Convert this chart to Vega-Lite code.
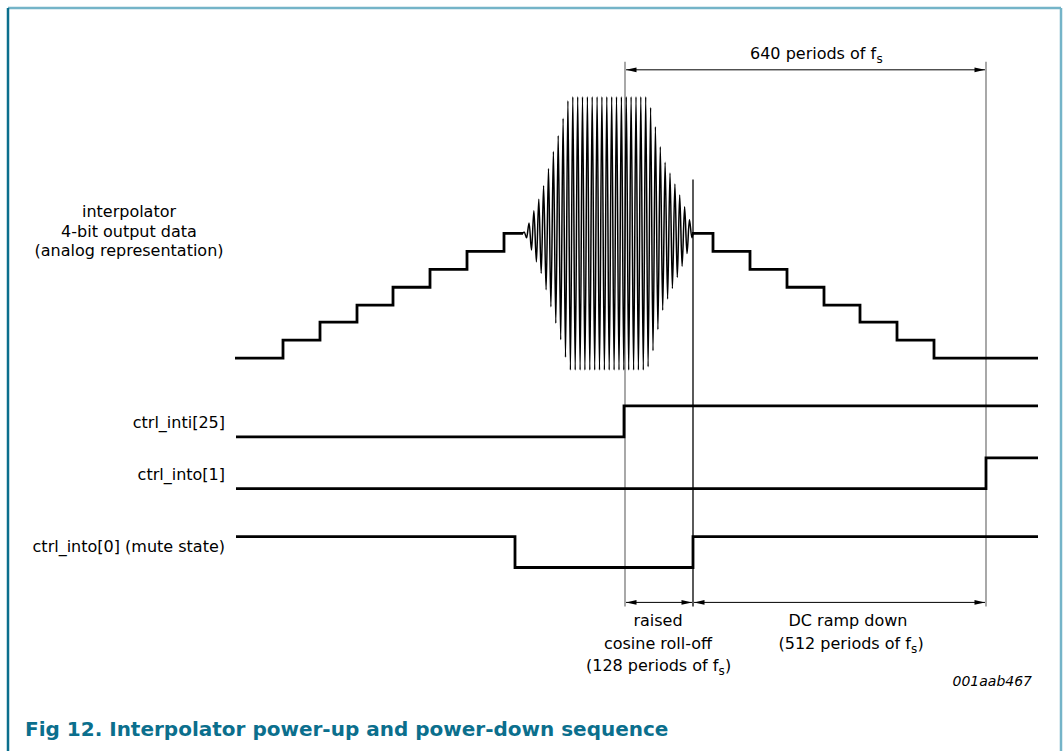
{
  "$schema": "https://vega.github.io/schema/vega-lite/v6.json",
  "width": 1063,
  "height": 753,
  "autosize": {"type": "fit", "contains": "padding"},
  "padding": 0,
  "background": "white",
  "config": {"view": {"stroke": null}, "text": {"font": "DejaVu Sans"}},
  "resolve": {"scale": {"color": "independent", "shape": "independent"}},
  "datasets": {
    "frame": [
      {"x": 8, "y": 8, "x2": 1061, "y2": 8, "part": "top"},
      {"x": 8, "y": 8, "x2": 8, "y2": 753, "part": "left"},
      {"x": 1061, "y": 8, "x2": 1061, "y2": 753, "part": "right"}
    ],
    "vlines": [
      {"x": 625, "y": 62, "y2": 608, "kind": "gray"},
      {"x": 693, "y": 180, "y2": 608, "kind": "black"},
      {"x": 986, "y": 62, "y2": 608, "kind": "gray"}
    ],
    "arrows": [
      {"x": 626, "x2": 985, "y": 70},
      {"x": 626, "x2": 692, "y": 604},
      {"x": 694, "x2": 985, "y": 604}
    ],
    "heads": [
      {"x": 626, "y": 70, "dir": "left"},
      {"x": 985, "y": 70, "dir": "right"},
      {"x": 626, "y": 604, "dir": "left"},
      {"x": 692, "y": 604, "dir": "right"},
      {"x": 694, "y": 604, "dir": "left"},
      {"x": 985, "y": 604, "dir": "right"}
    ],
    "stairs": [
      {"x": 235, "y": 359, "side": "up"},
      {"x": 283, "y": 341, "side": "up"},
      {"x": 320, "y": 323, "side": "up"},
      {"x": 357, "y": 306, "side": "up"},
      {"x": 393, "y": 288, "side": "up"},
      {"x": 430, "y": 270, "side": "up"},
      {"x": 467, "y": 252, "side": "up"},
      {"x": 504, "y": 234, "side": "up"},
      {"x": 523, "y": 234, "side": "up"},
      {"x": 692, "y": 234, "side": "down"},
      {"x": 713, "y": 252, "side": "down"},
      {"x": 750, "y": 270, "side": "down"},
      {"x": 787, "y": 288, "side": "down"},
      {"x": 824, "y": 306, "side": "down"},
      {"x": 860, "y": 323, "side": "down"},
      {"x": 897, "y": 341, "side": "down"},
      {"x": 934, "y": 359, "side": "down"},
      {"x": 1038, "y": 359, "side": "down"}
    ],
    "wave": [
      {"x": 523, "y": 234}, {"x": 524.2, "y": 232.5}, {"x": 526.6, "y": 238.5},
      {"x": 529.1, "y": 223.5}, {"x": 531.5, "y": 250.7}, {"x": 533.9, "y": 211.4},
      {"x": 536.4, "y": 262.6}, {"x": 538.8, "y": 199.7}, {"x": 541.2, "y": 274.1},
      {"x": 543.6, "y": 186.3}, {"x": 546.1, "y": 290.6}, {"x": 548.5, "y": 168.9},
      {"x": 550.9, "y": 307.6}, {"x": 553.4, "y": 152}, {"x": 555.8, "y": 324},
      {"x": 558.2, "y": 136}, {"x": 560.7, "y": 340.6}, {"x": 563.1, "y": 118.6},
      {"x": 565.5, "y": 358.2}, {"x": 567.9, "y": 101}, {"x": 570.4, "y": 371},
      {"x": 572.8, "y": 97}, {"x": 575.2, "y": 371}, {"x": 577.7, "y": 97},
      {"x": 580.1, "y": 371}, {"x": 582.5, "y": 97}, {"x": 584.9, "y": 371},
      {"x": 587.4, "y": 97}, {"x": 589.8, "y": 371}, {"x": 592.2, "y": 97},
      {"x": 594.7, "y": 371}, {"x": 597.1, "y": 97}, {"x": 599.5, "y": 371},
      {"x": 601.9, "y": 97}, {"x": 604.4, "y": 371}, {"x": 606.8, "y": 97},
      {"x": 609.2, "y": 371}, {"x": 611.7, "y": 97}, {"x": 614.1, "y": 371},
      {"x": 616.5, "y": 97}, {"x": 619.0, "y": 371}, {"x": 621.4, "y": 97},
      {"x": 623.8, "y": 371}, {"x": 626.3, "y": 97}, {"x": 628.7, "y": 371},
      {"x": 631.1, "y": 97}, {"x": 633.6, "y": 371}, {"x": 636.0, "y": 97},
      {"x": 638.4, "y": 371}, {"x": 640.8, "y": 97}, {"x": 643.3, "y": 371},
      {"x": 645.7, "y": 97}, {"x": 648.1, "y": 367.7}, {"x": 650.6, "y": 107.8},
      {"x": 653.0, "y": 351.6}, {"x": 655.4, "y": 127}, {"x": 657.9, "y": 330.4},
      {"x": 660.3, "y": 147.2}, {"x": 662.7, "y": 311.2}, {"x": 665.1, "y": 162.6},
      {"x": 667.6, "y": 299.9}, {"x": 670.0, "y": 173.4}, {"x": 672.4, "y": 289.3},
      {"x": 674.9, "y": 184.4}, {"x": 677.3, "y": 278.1}, {"x": 679.7, "y": 195.4},
      {"x": 682.1, "y": 267.1}, {"x": 684.6, "y": 207.3}, {"x": 687.0, "y": 254.2},
      {"x": 689.4, "y": 220.3}, {"x": 691.9, "y": 238.4}, {"x": 693, "y": 234}
    ],
    "signals": [
      {"x": 236, "y": 438, "signal": "inti25"},
      {"x": 624, "y": 407, "signal": "inti25"},
      {"x": 1038, "y": 407, "signal": "inti25"},
      {"x": 236, "y": 490, "signal": "into1"},
      {"x": 986, "y": 459, "signal": "into1"},
      {"x": 1038, "y": 459, "signal": "into1"},
      {"x": 236, "y": 538, "signal": "into0"},
      {"x": 515, "y": 569, "signal": "into0"},
      {"x": 693, "y": 538, "signal": "into0"},
      {"x": 1038, "y": 538, "signal": "into0"}
    ],
    "labels": [
      {"x": 129, "y": 218, "label": "interpolator", "role": "center"},
      {"x": 129, "y": 238, "label": "4-bit output data", "role": "center"},
      {"x": 129, "y": 257, "label": "(analog representation)", "role": "center"},
      {"x": 225, "y": 429, "label": "ctrl_inti[25]", "role": "right"},
      {"x": 225, "y": 481, "label": "ctrl_into[1]", "role": "right"},
      {"x": 225, "y": 553, "label": "ctrl_into[0] (mute state)", "role": "right"},
      {"x": 750, "y": 59, "label": "640 periods of f", "role": "left"},
      {"x": 876.5, "y": 63, "label": "s", "role": "sub"},
      {"x": 658, "y": 628, "label": "raised", "role": "center"},
      {"x": 658, "y": 651, "label": "cosine roll-off", "role": "center"},
      {"x": 586, "y": 673, "label": "(128 periods of f", "role": "left"},
      {"x": 718.5, "y": 677, "label": "s", "role": "sub"},
      {"x": 725, "y": 673, "label": ")", "role": "left"},
      {"x": 848, "y": 628, "label": "DC ramp down", "role": "center"},
      {"x": 778.5, "y": 651, "label": "(512 periods of f", "role": "left"},
      {"x": 911, "y": 655, "label": "s", "role": "sub"},
      {"x": 917.5, "y": 651, "label": ")", "role": "left"},
      {"x": 1032, "y": 688, "label": "001aab467", "role": "code"},
      {"x": 25, "y": 738, "label": "Fig 12. Interpolator power-up and power-down sequence", "role": "caption"}
    ]
  },
  "encoding": {
    "x": {"field": "x", "type": "quantitative", "scale": {"domain": [0, 1063], "nice": false, "zero": false}, "axis": null},
    "y": {"field": "y", "type": "quantitative", "scale": {"domain": [0, 753], "nice": false, "zero": false, "reverse": true}, "axis": null}
  },
  "layer": [
    {
      "data": {"name": "frame"},
      "mark": {"type": "rule", "strokeWidth": 2.5},
      "encoding": {
        "x2": {"field": "x2"},
        "y2": {"field": "y2"},
        "color": {"field": "part", "type": "nominal", "scale": {"domain": ["top", "left", "right"], "range": ["#74b4c8", "#0b6f8d", "#74b4c8"]}, "legend": null}
      }
    },
    {
      "data": {"name": "vlines"},
      "mark": {"type": "rule", "strokeWidth": 1.3},
      "encoding": {
        "y2": {"field": "y2"},
        "color": {"field": "kind", "type": "nominal", "scale": {"domain": ["gray", "black"], "range": ["#7a7a7a", "#000000"]}, "legend": null}
      }
    },
    {
      "data": {"name": "arrows"},
      "mark": {"type": "rule", "strokeWidth": 1, "color": "#000000"},
      "encoding": {"x2": {"field": "x2"}}
    },
    {
      "data": {"name": "heads"},
      "mark": {"type": "point", "filled": true, "opacity": 1, "size": 110, "color": "#000000", "strokeWidth": 0},
      "encoding": {
        "shape": {"field": "dir", "type": "nominal", "scale": {"domain": ["left", "right"], "range": ["M0,0L2,-0.45L2,0.45Z", "M0,0L-2,-0.45L-2,0.45Z"]}, "legend": null}
      }
    },
    {
      "data": {"name": "wave"},
      "mark": {"type": "line", "interpolate": "monotone", "strokeWidth": 1.5, "color": "#000000"},
      "encoding": {"order": {"field": "x", "type": "quantitative"}}
    },
    {
      "data": {"name": "stairs"},
      "mark": {"type": "line", "interpolate": "step-after", "strokeWidth": 2.8, "color": "#000000"},
      "encoding": {"detail": {"field": "side", "type": "nominal"}}
    },
    {
      "data": {"name": "signals"},
      "mark": {"type": "line", "interpolate": "step-after", "strokeWidth": 2.8, "color": "#000000"},
      "encoding": {"detail": {"field": "signal", "type": "nominal"}}
    },
    {
      "data": {"name": "labels"},
      "transform": [{"filter": "datum.role === 'center'"}],
      "mark": {"type": "text", "align": "center", "baseline": "alphabetic", "fontSize": 16, "color": "#000000"},
      "encoding": {"text": {"field": "label"}}
    },
    {
      "data": {"name": "labels"},
      "transform": [{"filter": "datum.role === 'left'"}],
      "mark": {"type": "text", "align": "left", "baseline": "alphabetic", "fontSize": 16, "color": "#000000"},
      "encoding": {"text": {"field": "label"}}
    },
    {
      "data": {"name": "labels"},
      "transform": [{"filter": "datum.role === 'sub'"}],
      "mark": {"type": "text", "align": "left", "baseline": "alphabetic", "fontSize": 12, "color": "#000000"},
      "encoding": {"text": {"field": "label"}}
    },
    {
      "data": {"name": "labels"},
      "transform": [{"filter": "datum.role === 'right'"}],
      "mark": {"type": "text", "align": "right", "baseline": "alphabetic", "fontSize": 16, "color": "#000000"},
      "encoding": {"text": {"field": "label"}}
    },
    {
      "data": {"name": "labels"},
      "transform": [{"filter": "datum.role === 'code'"}],
      "mark": {"type": "text", "align": "right", "baseline": "alphabetic", "fontSize": 14, "fontStyle": "italic", "color": "#000000"},
      "encoding": {"text": {"field": "label"}}
    },
    {
      "data": {"name": "labels"},
      "transform": [{"filter": "datum.role === 'caption'"}],
      "mark": {"type": "text", "align": "left", "baseline": "alphabetic", "fontSize": 20, "fontWeight": "bold", "color": "#0b6f8d"},
      "encoding": {"text": {"field": "label"}}
    }
  ]
}
